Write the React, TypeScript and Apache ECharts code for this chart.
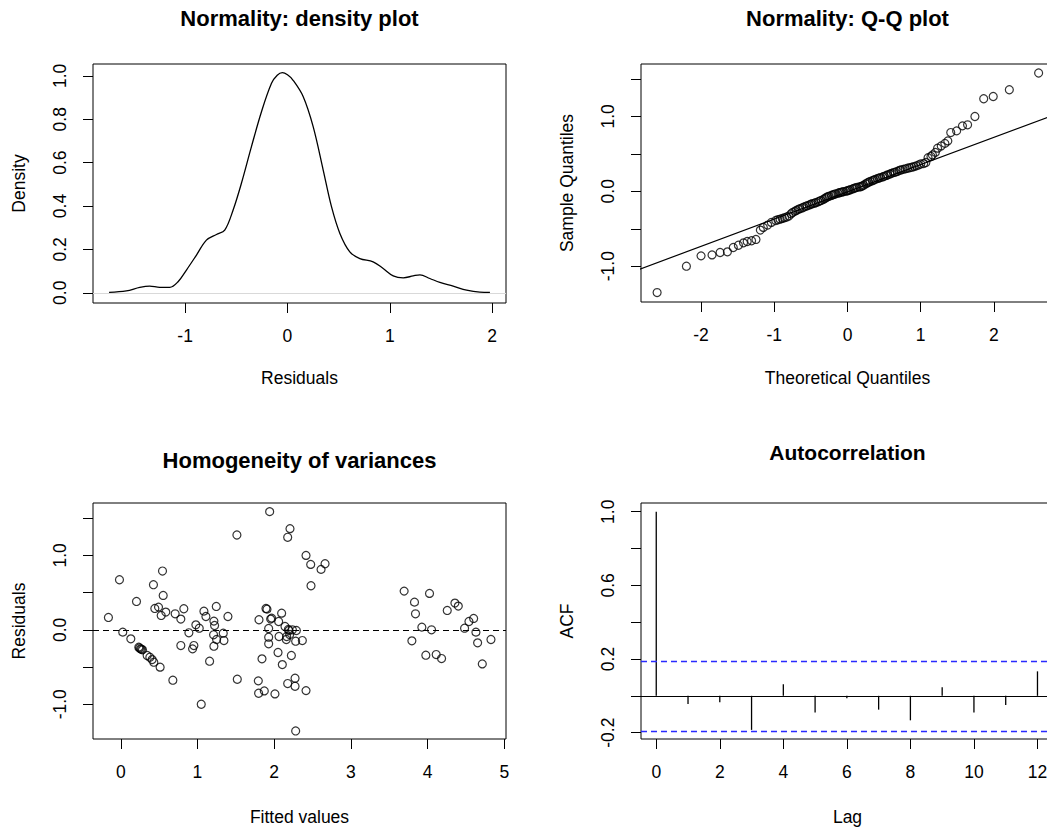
import React, { useEffect, useRef } from "react";
import * as echarts from "echarts";

// ---------- Data ----------
// Panel 1: kernel density of residuals
const DENSITY_X = [-1.743, -1.574, -1.443, -1.346, -1.248, -1.150, -1.069, -0.987, -0.889, -0.792, -0.694, -0.613, -0.531, -0.450, -0.352, -0.254, -0.156, -0.100, -0.050, 0.000, 0.055, 0.153, 0.251, 0.349, 0.430, 0.512, 0.609, 0.707, 0.837, 0.935, 1.033, 1.131, 1.228, 1.294, 1.391, 1.489, 1.619, 1.750, 1.880, 1.978];
const DENSITY_Y = [0.002, 0.009, 0.025, 0.031, 0.025, 0.025, 0.051, 0.105, 0.174, 0.243, 0.269, 0.289, 0.382, 0.505, 0.674, 0.835, 0.966, 1.003, 1.015, 1.005, 0.980, 0.905, 0.766, 0.566, 0.397, 0.274, 0.189, 0.158, 0.143, 0.112, 0.078, 0.069, 0.078, 0.083, 0.066, 0.048, 0.031, 0.012, 0.003, 0.002];

// Panel 2: Q-Q plot
const QQ_THEORETICAL = [
  -2.60, -2.20, -2.00, -1.85, -1.74, -1.64, -1.56, -1.49, -1.42, -1.37, -1.31, -1.25, -1.19, -1.15, -1.09, -1.04, -0.98,
  -0.95, -0.92, -0.89, -0.86, -0.83, -0.80, -0.77, -0.75, -0.72, -0.70, -0.67, -0.65, -0.62, -0.60, -0.57, -0.55, -0.52, -0.50, -0.48, -0.45,
  -0.43, -0.40, -0.38, -0.36, -0.33, -0.31, -0.29, -0.27, -0.25, -0.22, -0.20, -0.18, -0.16, -0.13, -0.11, -0.09, -0.07, -0.05, -0.02, 0.00,
  0.02, 0.04, 0.07, 0.09, 0.11, 0.13, 0.16, 0.18, 0.20, 0.22, 0.25, 0.27, 0.29, 0.31, 0.34, 0.36, 0.38, 0.41, 0.43, 0.45,
  0.48, 0.50, 0.53, 0.55, 0.58, 0.60, 0.63, 0.65, 0.68, 0.71, 0.73, 0.76, 0.79, 0.82, 0.85, 0.88, 0.91, 0.94, 0.97, 1.00,
  1.04, 1.07, 1.10, 1.14, 1.16, 1.20, 1.23, 1.28, 1.33, 1.37, 1.41, 1.49, 1.57, 1.64, 1.74, 1.86, 1.99, 2.21, 2.61,
];
const QQ_SAMPLE = [
  -1.352, -1.000, -0.862, -0.849, -0.817, -0.808, -0.750, -0.720, -0.688, -0.670, -0.660, -0.643, -0.518, -0.482, -0.451, -0.415, -0.390,
  -0.380, -0.372, -0.362, -0.352, -0.343, -0.330, -0.300, -0.283, -0.268, -0.255, -0.240, -0.232, -0.222, -0.212, -0.200, -0.192, -0.182, -0.173, -0.165, -0.158,
  -0.150, -0.140, -0.130, -0.122, -0.108, -0.095, -0.082, -0.072, -0.065, -0.055, -0.047, -0.040, -0.033, -0.025, -0.018, -0.013, -0.008, -0.003, 0.002, 0.008,
  0.014, 0.022, 0.032, 0.040, 0.047, 0.053, 0.058, 0.062, 0.070, 0.082, 0.100, 0.112, 0.122, 0.132, 0.142, 0.150, 0.160, 0.170, 0.177, 0.183,
  0.192, 0.200, 0.212, 0.220, 0.230, 0.240, 0.250, 0.255, 0.265, 0.280, 0.285, 0.293, 0.300, 0.308, 0.315, 0.322, 0.330, 0.340, 0.352, 0.365,
  0.370, 0.385, 0.450, 0.465, 0.486, 0.520, 0.576, 0.606, 0.640, 0.673, 0.785, 0.807, 0.874, 0.888, 0.999, 1.236, 1.266, 1.356, 1.580,
];
const QQ_LINE_INTERCEPT = -0.007;
const QQ_LINE_SLOPE = 0.364;

// Panel 3: residuals vs fitted
const FITTED = [
  -0.161, -0.017, 0.026, 0.131, 0.205, 0.235, 0.245, 0.257, 0.270, 0.283, 0.344, 0.379, 0.409, 0.431, 0.426, 0.513, 0.444, 0.492, 0.544, 0.553,
  0.527, 0.587, 0.679, 0.709, 0.783, 0.822, 0.783, 0.888, 0.936, 0.953, 0.979, 1.023, 1.049, 1.084, 1.110, 1.158, 1.214, 1.223, 1.245, 1.210,
  1.214, 1.249, 1.336, 1.345, 1.397, 1.514, 1.519, 1.793, 1.802, 1.797, 1.841, 1.871, 1.893, 1.906, 1.928, 1.928, 1.928, 1.941, 1.954, 1.967,
  2.010, 2.050, 2.058, 2.063, 2.097, 2.106, 2.141, 2.158, 2.163, 2.176, 2.176, 2.185, 2.193, 2.206, 2.202, 2.224, 2.237, 2.272, 2.272, 2.280,
  2.280, 2.289, 2.367, 2.415, 2.415, 2.476, 2.480, 2.611, 2.663, 3.694, 3.795, 3.829, 3.842, 3.925, 3.977, 4.025, 4.051, 4.112, 4.182, 4.256,
  4.356, 4.400, 4.482, 4.539, 4.600, 4.630, 4.652, 4.713, 4.826,
];
const RESIDUALS = [
  0.166, 0.673, -0.031, -0.121, 0.381, -0.233, -0.245, -0.256, -0.262, -0.269, -0.345, -0.368, -0.400, -0.435, 0.606, -0.502, 0.287, 0.305, 0.790, 0.462,
  0.193, 0.238, -0.677, 0.215, 0.144, 0.283, -0.211, -0.040, -0.256, -0.211, 0.067, 0.022, -1.000, 0.251, 0.179, -0.422, 0.117, 0.058, 0.314, -0.067,
  -0.220, -0.130, -0.045, -0.144, 0.179, 1.274, -0.664, -0.686, 0.135, -0.852, -0.390, -0.821, 0.287, 0.278, 0.018, -0.099, -0.188, 1.588, 0.144, 0.157,
  -0.861, -0.305, 0.112, -0.090, 0.224, -0.467, 0.045, -0.130, -0.090, 1.243, -0.722, 0.005, -0.009, 1.359, -0.063, -0.345, 0.000, -0.651, -0.758, -1.359,
  -0.153, -0.009, -0.144, 1.000, -0.817, 0.879, 0.592, 0.812, 0.888, 0.520, -0.148, 0.372, 0.215, 0.036, -0.341, 0.489, 0.000, -0.332, -0.386, 0.260,
  0.359, 0.319, 0.022, 0.112, 0.153, -0.031, -0.175, -0.458, -0.130,
];

// Panel 4: autocorrelation
const ACF_LAGS = [0, 1, 2, 3, 4, 5, 6, 7, 8, 9, 10, 11, 12];
const ACF_VALUES = [1.0, -0.045, -0.035, -0.185, 0.063, -0.09, -0.013, -0.075, -0.133, 0.047, -0.09, -0.05, 0.133];
const ACF_CONF = 0.187;

// Tick labels / tick marks
const DENS_X_LABELS = [-1, 0, 1, 2];
const DENS_Y_LABELS = [0, 0.2, 0.4, 0.6, 0.8, 1.0];
const QQ_X_LABELS = [-2, -1, 0, 1, 2];
const QQ_Y_LABELS = [-1, 0, 1];
const QQ_Y_TICKS = [-1, -0.5, 0, 0.5, 1, 1.5];
const RES_X_LABELS = [0, 1, 2, 3, 4, 5];
const RES_Y_LABELS = [-1, 0, 1];
const RES_Y_TICKS = [-1, -0.5, 0, 0.5, 1, 1.5];
const ACF_X_LABELS = [0, 2, 4, 6, 8, 10, 12];
const ACF_Y_LABELS = [-0.2, 0.2, 0.6, 1.0];
const ACF_Y_TICKS = [-0.2, 0, 0.2, 0.4, 0.6, 0.8, 1.0];

const FONT = '"Liberation Sans", Arial, Helvetica, sans-serif';
const fmt1 = (v: number) => (Math.abs(v) < 1e-9 ? "0.0" : v.toFixed(1));
const fmt0 = (v: number) => String(Math.round(v));

function xAx(gridIndex: number, min: number, max: number, labels: number[], ticks: number[], formatter: any) {
  return {
    type: "value",
    gridIndex,
    min,
    max,
    axisLine: { show: false, onZero: false },
    axisTick: { show: true, inside: false, length: 10, customValues: ticks, lineStyle: { color: "#000", width: 1 } },
    axisLabel: { show: true, customValues: labels, formatter, margin: 24, color: "#000", fontSize: 17.5, fontFamily: FONT },
    splitLine: { show: false },
  };
}
function yAx(gridIndex: number, min: number, max: number, labels: number[], ticks: number[], formatter: any) {
  return {
    type: "value",
    gridIndex,
    min,
    max,
    axisLine: { show: false, onZero: false },
    axisTick: { show: true, inside: false, length: 10, customValues: ticks, lineStyle: { color: "#000", width: 1 } },
    axisLabel: { show: true, customValues: labels, formatter, rotate: 90, margin: 24, color: "#000", fontSize: 17.5, fontFamily: FONT },
    splitLine: { show: false },
  };
}

function txt(text: string, x: number, y: number, opts: any = {}) {
  return {
    type: "text",
    x,
    y,
    rotation: opts.rotation || 0,
    silent: true,
    style: {
      text,
      fill: "#000",
      fontSize: opts.fontSize || 17.5,
      fontWeight: opts.bold ? "bold" : "normal",
      fontFamily: FONT,
      align: "center",
      verticalAlign: "middle",
    },
  };
}

export default function App() {
  const ref = useRef<HTMLDivElement>(null);
  useEffect(() => {
    document.body.style.margin = "0";
    if (!ref.current) return;
    const chart = echarts.init(ref.current, undefined, { renderer: "svg" });

    const gridBase = { show: true, borderColor: "#000", borderWidth: 1, backgroundColor: "transparent", containLabel: false, outerBoundsMode: "none" };
    const W = 413;
    const circle = {
      symbol: "circle",
      symbolSize: 8,
      itemStyle: { color: "rgba(0,0,0,0)", borderColor: "#000", borderWidth: 1.2 },
    };

    const option: any = {
      animation: false,
      backgroundColor: "#fff",
      grid: [
        { ...gridBase, left: 93, top: 64, width: W, height: 239 },
        { ...gridBase, left: 641, top: 64, width: W, height: 238 },
        { ...gridBase, left: 93, top: 503, width: W, height: 236 },
        { ...gridBase, left: 641, top: 503, width: W, height: 236 },
      ],
      xAxis: [
        xAx(0, -1.9, 2.135, DENS_X_LABELS, DENS_X_LABELS, fmt0),
        xAx(1, -2.82, 2.82, QQ_X_LABELS, QQ_X_LABELS, fmt0),
        xAx(2, -0.362, 5.022, RES_X_LABELS, RES_X_LABELS, fmt0),
        xAx(3, -0.48, 12.52, ACF_X_LABELS, ACF_X_LABELS, fmt0),
      ],
      yAxis: [
        yAx(0, -0.047, 1.055, DENS_Y_LABELS, DENS_Y_LABELS, fmt1),
        yAx(1, -1.478, 1.7, QQ_Y_LABELS, QQ_Y_TICKS, fmt1),
        yAx(2, -1.467, 1.704, RES_Y_LABELS, RES_Y_TICKS, fmt1),
        yAx(3, -0.2345, 1.0475, ACF_Y_LABELS, ACF_Y_TICKS, fmt1),
      ],
      series: [
        {
          type: "line",
          xAxisIndex: 0,
          yAxisIndex: 0,
          data: DENSITY_X.map((x, i) => [x, DENSITY_Y[i]]),
          smooth: 0.35,
          showSymbol: false,
          symbol: "none",
          lineStyle: { color: "#000", width: 1.3 },
          markLine: {
            silent: true,
            symbol: "none",
            label: { show: false },
            lineStyle: { color: "#d9d9d9", type: "solid", width: 1 },
            data: [{ yAxis: 0 }],
          },
          z: 3,
        },
        {
          type: "line",
          xAxisIndex: 1,
          yAxisIndex: 1,
          data: [-3, 3].map((x) => [x, QQ_LINE_INTERCEPT + QQ_LINE_SLOPE * x]),
          showSymbol: false,
          symbol: "none",
          clip: true,
          lineStyle: { color: "#000", width: 1.2 },
        },
        {
          type: "scatter",
          xAxisIndex: 1,
          yAxisIndex: 1,
          data: QQ_THEORETICAL.map((x, i) => [x, QQ_SAMPLE[i]]),
          ...circle,
        },
        {
          type: "scatter",
          xAxisIndex: 2,
          yAxisIndex: 2,
          data: FITTED.map((x, i) => [x, RESIDUALS[i]]),
          ...circle,
          markLine: {
            silent: true,
            symbol: "none",
            label: { show: false },
            lineStyle: { color: "#000", type: [6, 4], width: 1.2 },
            data: [{ yAxis: 0 }],
          },
        },
        {
          type: "bar",
          xAxisIndex: 3,
          yAxisIndex: 3,
          data: ACF_LAGS.map((l, i) => [l, ACF_VALUES[i]]),
          barWidth: 1.3,
          itemStyle: { color: "#000" },
          markLine: {
            silent: true,
            symbol: "none",
            label: { show: false },
            data: [
              { yAxis: 0, lineStyle: { color: "#000", type: "solid", width: 1.2 } },
              { yAxis: ACF_CONF, lineStyle: { color: "#2a2aff", type: [6, 4], width: 1.3 } },
              { yAxis: -ACF_CONF, lineStyle: { color: "#2a2aff", type: [6, 4], width: 1.3 } },
            ],
          },
        },
      ],
      graphic: {
        elements: [
          txt("Normality: density plot", 299.5, 18, { bold: true, fontSize: 22 }),
          txt("Normality: Q-Q plot", 847.5, 18, { bold: true, fontSize: 22 }),
          txt("Homogeneity of variances", 299.5, 460, { bold: true, fontSize: 22 }),
          txt("Autocorrelation", 847.5, 452, { bold: true, fontSize: 21 }),
          txt("Residuals", 299.5, 378),
          txt("Theoretical Quantiles", 847.5, 378),
          txt("Fitted values", 299.5, 817),
          txt("Lag", 847.5, 817),
          txt("Density", 19, 183.5, { rotation: Math.PI / 2 }),
          txt("Sample Quantiles", 567, 183, { rotation: Math.PI / 2 }),
          txt("Residuals", 19, 621, { rotation: Math.PI / 2 }),
          txt("ACF", 567, 621, { rotation: Math.PI / 2 }),
        ],
      },
    };
    chart.setOption(option);
    return () => chart.dispose();
  }, []);
  return <div ref={ref} style={{ position: "absolute", left: 0, top: 0, width: 1047, height: 832 }} />;
}
